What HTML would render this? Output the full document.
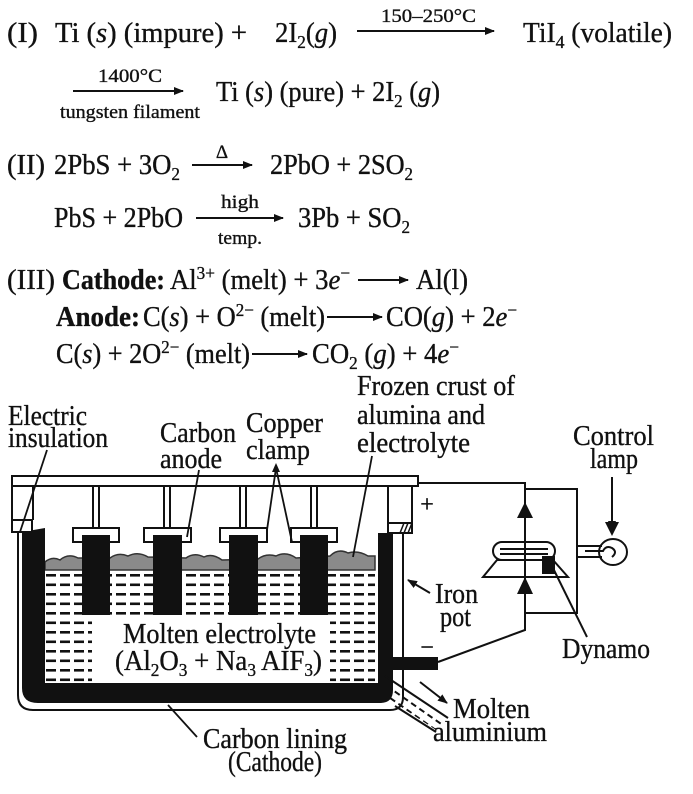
<!DOCTYPE html>
<html><head><meta charset="utf-8"><style>
html,body{margin:0;padding:0;background:#fff;}
svg{display:block;}
text{font-family:"Liberation Serif",serif;fill:#111;stroke:#111;stroke-width:0.35;}
</style></head><body>
<svg width="693" height="794" viewBox="0 0 693 794" xmlns="http://www.w3.org/2000/svg">
<defs>
<pattern id="dash" x="45" y="572" width="14" height="9.5" patternUnits="userSpaceOnUse">
<rect x="1" y="2" width="10" height="2.6" fill="#111"/>
</pattern>
<pattern id="dash2" x="380" y="672" width="10" height="8" patternUnits="userSpaceOnUse" patternTransform="rotate(35)">
<rect x="0" y="3" width="6" height="2" fill="#111"/>
</pattern>
<marker id="ah" markerWidth="10" markerHeight="10" refX="9" refY="5" orient="auto" markerUnits="userSpaceOnUse">
<path d="M0,1 L10,5 L0,9 z" fill="#111"/>
</marker>
</defs>

<!-- Equations -->
<g font-size="28">
<text x="7" y="42" textLength="31" lengthAdjust="spacingAndGlyphs">(I)</text>
<text x="55" y="42" textLength="192" lengthAdjust="spacingAndGlyphs">Ti (<tspan font-style="italic">s</tspan>) (impure) +</text>
<text x="275" y="42" textLength="62" lengthAdjust="spacingAndGlyphs">2I<tspan font-size="18" dy="6">2</tspan><tspan dy="-6">(</tspan><tspan font-style="italic">g</tspan>)</text>
<text x="523" y="42" textLength="149" lengthAdjust="spacingAndGlyphs">TiI<tspan font-size="18" dy="6">4</tspan><tspan dy="-6"> (volatile)</tspan></text>
<text x="216" y="101" textLength="224" lengthAdjust="spacingAndGlyphs">Ti (<tspan font-style="italic">s</tspan>) (pure) + 2I<tspan font-size="18" dy="6">2</tspan><tspan dy="-6"> (</tspan><tspan font-style="italic">g</tspan>)</text>

<text x="7" y="174" textLength="38" lengthAdjust="spacingAndGlyphs">(II)</text>
<text x="54" y="174" textLength="126" lengthAdjust="spacingAndGlyphs">2PbS + 3O<tspan font-size="18" dy="6">2</tspan></text>
<text x="270" y="174" textLength="143" lengthAdjust="spacingAndGlyphs">2PbO + 2SO<tspan font-size="18" dy="6">2</tspan></text>
<text x="54" y="227" textLength="129" lengthAdjust="spacingAndGlyphs">PbS + 2PbO</text>
<text x="298" y="227" textLength="112" lengthAdjust="spacingAndGlyphs">3Pb + SO<tspan font-size="18" dy="6">2</tspan></text>

<text x="7" y="289" textLength="48" lengthAdjust="spacingAndGlyphs">(III)</text>
<text x="62" y="289" textLength="103" lengthAdjust="spacingAndGlyphs" font-weight="bold">Cathode:</text>
<text x="170" y="289" textLength="180" lengthAdjust="spacingAndGlyphs">Al<tspan font-size="18" dy="-10">3+</tspan><tspan dy="10"> (melt) + 3</tspan><tspan font-style="italic">e</tspan><tspan font-size="18" dy="-10">−</tspan></text>
<text x="416" y="289" textLength="52" lengthAdjust="spacingAndGlyphs">Al(l)</text>
<text x="56" y="326" textLength="84" lengthAdjust="spacingAndGlyphs" font-weight="bold">Anode:</text>
<text x="143" y="326" textLength="182" lengthAdjust="spacingAndGlyphs">C(<tspan font-style="italic">s</tspan>) + O<tspan font-size="18" dy="-10">2−</tspan><tspan dy="10"> (melt)</tspan></text>
<text x="386" y="326" textLength="131" lengthAdjust="spacingAndGlyphs">CO(<tspan font-style="italic">g</tspan>) + 2<tspan font-style="italic">e</tspan><tspan font-size="18" dy="-10">−</tspan></text>
<text x="56" y="363" textLength="194" lengthAdjust="spacingAndGlyphs">C(<tspan font-style="italic">s</tspan>) + 2O<tspan font-size="18" dy="-10">2−</tspan><tspan dy="10"> (melt)</tspan></text>
<text x="312" y="363" textLength="147" lengthAdjust="spacingAndGlyphs">CO<tspan font-size="18" dy="6">2</tspan><tspan dy="-6"> (</tspan><tspan font-style="italic">g</tspan>) + 4<tspan font-style="italic">e</tspan><tspan font-size="18" dy="-10">−</tspan></text>
</g>
<g font-size="19">
<text x="381" y="22" textLength="95" lengthAdjust="spacingAndGlyphs">150–250°C</text>
<text x="98" y="82" textLength="64" lengthAdjust="spacingAndGlyphs">1400°C</text>
<text x="60" y="118" textLength="140" lengthAdjust="spacingAndGlyphs">tungsten filament</text>
<text x="222" y="158" text-anchor="middle">Δ</text>
<text x="240" y="208" text-anchor="middle" textLength="38" lengthAdjust="spacingAndGlyphs">high</text>
<text x="240" y="244" text-anchor="middle" textLength="44" lengthAdjust="spacingAndGlyphs">temp.</text>
</g>
<g stroke="#111" stroke-width="2" fill="none" marker-end="url(#ah)">
<line x1="357" y1="31" x2="494" y2="31"/>
<line x1="73" y1="91" x2="183" y2="91"/>
<line x1="192" y1="165" x2="252" y2="165"/>
<line x1="196" y1="218" x2="283" y2="218"/>
<line x1="358" y1="280" x2="408" y2="280"/>
<line x1="327" y1="317" x2="382" y2="317"/>
<line x1="252" y1="354" x2="307" y2="354"/>
</g>

<!-- Labels -->
<g font-size="28">
<text x="8" y="425" textLength="79" lengthAdjust="spacingAndGlyphs">Electric</text>
<text x="8" y="447" textLength="100" lengthAdjust="spacingAndGlyphs">insulation</text>
<text x="160" y="442" textLength="76" lengthAdjust="spacingAndGlyphs">Carbon</text>
<text x="160" y="468" textLength="62" lengthAdjust="spacingAndGlyphs">anode</text>
<text x="246" y="432" textLength="77" lengthAdjust="spacingAndGlyphs">Copper</text>
<text x="246" y="459" textLength="64" lengthAdjust="spacingAndGlyphs">clamp</text>
<text x="357" y="395" textLength="158" lengthAdjust="spacingAndGlyphs">Frozen crust of</text>
<text x="357" y="424" textLength="128" lengthAdjust="spacingAndGlyphs">alumina and</text>
<text x="357" y="452" textLength="113" lengthAdjust="spacingAndGlyphs">electrolyte</text>
<text x="573" y="445" textLength="81" lengthAdjust="spacingAndGlyphs">Control</text>
<text x="590" y="468" textLength="48" lengthAdjust="spacingAndGlyphs">lamp</text>
<text x="435" y="603" textLength="43" lengthAdjust="spacingAndGlyphs">Iron</text>
<text x="440" y="626" textLength="31" lengthAdjust="spacingAndGlyphs">pot</text>
<text x="562" y="658" textLength="88" lengthAdjust="spacingAndGlyphs">Dynamo</text>
<text x="453" y="718" textLength="77" lengthAdjust="spacingAndGlyphs">Molten</text>
<text x="433" y="741" textLength="114" lengthAdjust="spacingAndGlyphs">aluminium</text>
<text x="203" y="748" textLength="144" lengthAdjust="spacingAndGlyphs">Carbon lining</text>
<text x="228" y="771" textLength="94" lengthAdjust="spacingAndGlyphs">(Cathode)</text>
</g>

<!-- Pot -->
<path d="M18,532 L18,695 Q18,710 33,710 L390,710 Q403,710 403,697 L403,533" fill="none" stroke="#111" stroke-width="2"/>
<rect x="45" y="570" width="330" height="113" fill="url(#dash)"/>
<rect x="92" y="619" width="238" height="64" fill="#fff"/>
<path d="M45,570 L45,562 Q52,556 60,560 Q68,553 78,558 L110,558 Q118,552 128,556 Q138,551 148,557 L186,558 Q194,552 204,557 Q212,553 222,560 L258,559 Q266,553 276,556 Q286,551 296,558 L330,556 Q338,548 348,553 Q358,550 368,556 L375,556 L375,570 Z" fill="#8a8a8a" stroke="#333" stroke-width="1.5"/>
<path d="M22,532 L45,528 L45,683 L378,683 L378,533 L393,533 L393,690 Q393,703 380,703 L38,703 Q22,703 22,688 Z" fill="#111"/>
<path d="M380,680 L445,722 L436,730 L375,690 Z" fill="url(#dash2)"/>
<line x1="385" y1="676" x2="448" y2="718" stroke="#111" stroke-width="2"/>
<line x1="395" y1="706" x2="436" y2="732" stroke="#111" stroke-width="2"/>
<line x1="420" y1="682" x2="447" y2="703" stroke="#111" stroke-width="2" marker-end="url(#ah)"/>
<rect x="393" y="657" width="45" height="13" fill="#111"/>

<g stroke="#111" stroke-width="2" fill="#fff">
<rect x="12" y="476" width="406" height="10"/>
<line x1="12" y1="486" x2="12" y2="532"/>
<line x1="33" y1="486" x2="33" y2="520"/>
<rect x="12" y="520" width="20" height="12"/>
<line x1="388" y1="486" x2="388" y2="523"/>
<line x1="412" y1="486" x2="412" y2="523"/>
<rect x="388" y="523" width="24" height="10"/>
</g>
<g stroke="#111" stroke-width="1.5"><line x1="400" y1="533" x2="404" y2="523"/><line x1="404" y1="533" x2="408" y2="523"/><line x1="408" y1="533" x2="412" y2="523"/></g>
<g stroke="#111" stroke-width="2" fill="#fff">
<line x1="93" y1="486" x2="93" y2="528"/><line x1="99" y1="486" x2="99" y2="528"/>
<line x1="164" y1="486" x2="164" y2="528"/><line x1="170" y1="486" x2="170" y2="528"/>
<line x1="240" y1="486" x2="240" y2="528"/><line x1="246" y1="486" x2="246" y2="528"/>
<line x1="311" y1="486" x2="311" y2="528"/><line x1="317" y1="486" x2="317" y2="528"/>
<rect x="73" y="528" width="46" height="14"/>
<rect x="144" y="528" width="47" height="14"/>
<rect x="220" y="528" width="47" height="14"/>
<rect x="291" y="528" width="46" height="14"/>
</g>
<g fill="#111">
<rect x="82" y="535" width="28" height="80"/>
<rect x="153" y="535" width="29" height="80"/>
<rect x="229" y="535" width="29" height="80"/>
<rect x="300" y="535" width="28" height="80"/>
</g>
<g font-size="28">
<text x="123" y="643" textLength="193" lengthAdjust="spacingAndGlyphs">Molten electrolyte</text>
<text x="115" y="670" textLength="207" lengthAdjust="spacingAndGlyphs">(Al<tspan font-size="18" dy="6">2</tspan><tspan dy="-6">O</tspan><tspan font-size="18" dy="6">3</tspan><tspan dy="-6"> + Na</tspan><tspan font-size="18" dy="6">3</tspan><tspan dy="-6"> AIF</tspan><tspan font-size="18" dy="6">3</tspan><tspan dy="-6">)</tspan></text>
<text x="427" y="512" text-anchor="middle" font-size="24">+</text>
<text x="427" y="655" text-anchor="middle" font-size="24">−</text>
</g>

<g stroke="#111" stroke-width="1.8" fill="none">
<line x1="47" y1="450" x2="20" y2="532"/>
<line x1="199" y1="470" x2="187" y2="537"/>
<line x1="276" y1="468" x2="267" y2="530"/>
<line x1="276" y1="468" x2="292" y2="542"/>
<line x1="372" y1="456" x2="353" y2="557"/>
<line x1="168" y1="705" x2="197" y2="737"/>
</g>
<path d="M276,463 L272,472 L280,472 Z" fill="#111"/>
<line x1="430" y1="593" x2="408" y2="580" stroke="#111" stroke-width="2" marker-end="url(#ah)"/>

<g stroke="#111" stroke-width="2" fill="none">
<polyline points="418,483 525,483 525,630 438,662"/>
<polyline points="525,489 577,489 577,613 525,613"/>
<rect x="493" y="542" width="62" height="18" rx="9" fill="#fff"/>
<line x1="500" y1="549" x2="548" y2="549"/>
<line x1="500" y1="554" x2="548" y2="554"/>
<path d="M497,560 L553,560 L568,577 L483,577 Z" fill="#fff"/>
<line x1="525" y1="542" x2="525" y2="577"/>
<line x1="550" y1="562" x2="587" y2="637"/>
<line x1="577" y1="546" x2="602" y2="546"/>
<line x1="577" y1="557" x2="602" y2="557"/>
<ellipse cx="613" cy="552" rx="14" ry="13"/>
<path d="M585,551 L603,551 Q606,545 612,548 Q618,552 612,557"/>
<line x1="612" y1="477" x2="612" y2="530" marker-end="url(#ah)"/>
</g>
<rect x="542" y="556" width="13" height="18" fill="#111"/>
<path d="M525,502 L517,518 L533,518 Z M525,577 L517,594 L533,594 Z" fill="#111"/>
<path d="M612,536 L605,522 L619,522 Z" fill="#111"/>
</svg>
</body></html>
